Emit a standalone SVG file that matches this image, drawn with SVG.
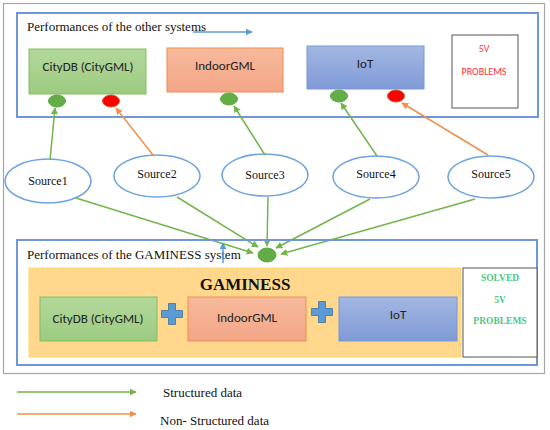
<svg xmlns="http://www.w3.org/2000/svg" width="550" height="430" viewBox="0 0 550 430">
<defs>
<style>
.ser{font-family:"Liberation Serif","Times New Roman",serif;fill:#111}
.sans{font-family:"Carlito","Liberation Sans",Arial,sans-serif;fill:#222}
.frame{fill:none;stroke:#6f97d8;stroke-width:2}
.gdot{fill:#62ad45;stroke:#5aa83c;stroke-width:1}
.rdot{fill:#ff0000;stroke:#c85a2a;stroke-width:1}
.src{fill:#fff;stroke:#6fa4e0;stroke-width:1.6}
.g{stroke:#72b54c;stroke-width:1.5;fill:none;marker-end:url(#ag)}
.o{stroke:#f0904a;stroke-width:1.5;fill:none;marker-end:url(#ao)}
.plus{fill:#5b9bd5;stroke:#41719c;stroke-width:0.8}
.sv{font-family:"Liberation Serif","Times New Roman",serif;fill:#4cc97f;font-weight:bold;font-size:9.5px}
</style>
<linearGradient id="gg" x1="0" y1="0" x2="0" y2="1"><stop offset="0" stop-color="#b3d89c"/><stop offset="1" stop-color="#9ccb80"/></linearGradient>
<linearGradient id="gs" x1="0" y1="0" x2="0" y2="1"><stop offset="0" stop-color="#f7b99c"/><stop offset="1" stop-color="#f2a687"/></linearGradient>
<linearGradient id="gb" x1="0" y1="0" x2="0" y2="1"><stop offset="0" stop-color="#a3b7e3"/><stop offset="1" stop-color="#7e9ad6"/></linearGradient>
<marker id="ag" viewBox="0 0 10 10" refX="9" refY="5" markerWidth="7" markerHeight="7" orient="auto" markerUnits="userSpaceOnUse"><path d="M0,0L10,5L0,10z" fill="#72b54c"/></marker>
<marker id="ao" viewBox="0 0 10 10" refX="9" refY="5" markerWidth="7" markerHeight="7" orient="auto" markerUnits="userSpaceOnUse"><path d="M0,0L10,5L0,10z" fill="#f0904a"/></marker>
<marker id="ab" viewBox="0 0 10 10" refX="9" refY="5" markerWidth="7" markerHeight="7" orient="auto" markerUnits="userSpaceOnUse"><path d="M0,0L10,5L0,10z" fill="#5b9bd5"/></marker>
</defs>
<rect x="0" y="0" width="550" height="430" fill="#fff"/>
<rect x="3.5" y="3.5" width="541" height="370" fill="none" stroke="#a6a6a6" stroke-width="1.2"/>

<g id="top-panel">
<rect class="frame" x="17" y="13" width="521" height="104"/>
<text class="ser" x="27" y="31" font-size="13">Performances of the other systems</text>
<line x1="193" y1="32" x2="252" y2="32" stroke="#5b9bd5" stroke-width="1.5" marker-end="url(#ab)"/>
</g>
<g id="citydb-top"><rect x="29" y="49" width="117" height="45" fill="url(#gg)" stroke="#82bd63"/><text class="sans" x="88" y="71" font-size="13" text-anchor="middle">CityDB (CityGML)</text></g>
<g id="indoorgml-top"><rect x="167" y="48" width="116" height="44" fill="url(#gs)" stroke="#f08c4f"/><text class="sans" x="225" y="70" font-size="13" text-anchor="middle">IndoorGML</text></g>
<g id="iot-top"><rect x="307" y="46" width="117" height="43" fill="url(#gb)" stroke="#7a98d4"/><text class="sans" x="365" y="68" font-size="13" text-anchor="middle">IoT</text></g>
<g id="problems-top"><rect x="452" y="35" width="66" height="73" fill="#fff" stroke="#555" stroke-width="1"/><text class="sans" x="484" y="52" font-size="10" text-anchor="middle" style="fill:#ff3333">5V</text><text class="sans" x="484" y="75" font-size="10" text-anchor="middle" style="fill:#ff3333">PROBLEMS</text></g>

<g id="dots">
<ellipse class="gdot" cx="57" cy="101" rx="8.5" ry="6"/>
<ellipse class="rdot" cx="111" cy="101" rx="8.5" ry="6"/>
<ellipse class="gdot" cx="229" cy="99" rx="8.5" ry="6"/>
<ellipse class="gdot" cx="339" cy="96" rx="8.5" ry="6"/>
<ellipse class="rdot" cx="396" cy="96" rx="8.5" ry="6"/>
<ellipse class="gdot" cx="267" cy="255" rx="9" ry="7"/>
</g>

<g id="source1"><ellipse class="src" cx="48" cy="181" rx="43" ry="22"/><text class="ser" x="48" y="185" font-size="12" text-anchor="middle">Source1</text></g>
<g id="source2"><ellipse class="src" cx="157" cy="176" rx="43" ry="21"/><text class="ser" x="157" y="178" font-size="12" text-anchor="middle">Source2</text></g>
<g id="source3"><ellipse class="src" cx="265" cy="175" rx="43" ry="21"/><text class="ser" x="265" y="179" font-size="12" text-anchor="middle">Source3</text></g>
<g id="source4"><ellipse class="src" cx="376" cy="177" rx="43" ry="21"/><text class="ser" x="376" y="178" font-size="12" text-anchor="middle">Source4</text></g>
<g id="source5"><ellipse class="src" cx="491" cy="177" rx="43" ry="21"/><text class="ser" x="491" y="178" font-size="12" text-anchor="middle">Source5</text></g>

<g id="connectors">
<line class="g" x1="50" y1="160" x2="55" y2="108"/>
<line class="o" x1="153" y1="155" x2="116" y2="108"/>
<line class="g" x1="265" y1="155" x2="234" y2="106"/>
<line class="g" x1="377" y1="156" x2="341" y2="103"/>
<line class="o" x1="488" y1="155" x2="402" y2="103"/>
<line class="g" x1="76" y1="198" x2="253" y2="253"/>
<line class="g" x1="177" y1="197" x2="258" y2="247"/>
<line class="g" x1="268" y1="197" x2="267" y2="246"/>
<line class="g" x1="370" y1="199" x2="276" y2="248"/>
<line class="g" x1="475" y1="199" x2="281" y2="254"/>
</g>

<g id="bottom-panel">
<rect class="frame" x="17" y="240" width="520" height="125"/>
<text class="ser" x="27" y="259" font-size="13">Performances of the GAMINESS system</text>
<line x1="223" y1="263" x2="223" y2="243" stroke="#5b9bd5" stroke-width="1.5" marker-end="url(#ab)"/>
</g>
<g id="gaminess">
<rect x="29" y="268" width="432" height="89" fill="#ffd88e" stroke="#ffd966" stroke-width="1"/>
<text x="245" y="290" font-size="17" font-weight="bold" text-anchor="middle" style="font-family:'Liberation Serif','Times New Roman',serif;fill:#111">GAMINESS</text>
</g>
<g id="citydb-bottom"><rect x="40" y="297" width="117" height="44" fill="url(#gg)" stroke="#82bd63"/><text class="sans" x="98" y="323" font-size="13" text-anchor="middle">CityDB (CityGML)</text></g>
<g id="plus1"><path class="plus" d="M168.5,303.5h7v7h7v7h-7v7h-7v-7h-7v-7h7z"/></g>
<g id="indoorgml-bottom"><rect x="188" y="297" width="118" height="44" fill="url(#gs)" stroke="#f08c4f"/><text class="sans" x="247" y="322" font-size="13" text-anchor="middle">IndoorGML</text></g>
<g id="plus2"><path class="plus" d="M318.5,301.5h7v7h7v7h-7v7h-7v-7h-7v-7h7z"/></g>
<g id="iot-bottom"><rect x="339" y="297" width="118" height="44" fill="url(#gb)" stroke="#7a98d4"/><text class="sans" x="398" y="319" font-size="13" text-anchor="middle">IoT</text></g>
<g id="solved"><rect x="463" y="268" width="74" height="89" fill="#fff" stroke="#555" stroke-width="1"/>
<text class="sv" x="500" y="281" text-anchor="middle">SOLVED</text>
<text class="sv" x="500" y="303" text-anchor="middle">5V</text>
<text class="sv" x="500" y="324" text-anchor="middle">PROBLEMS</text>
</g>

<g id="legend">
<line class="g" x1="17" y1="392" x2="136" y2="392"/>
<text class="ser" x="163" y="397" font-size="13">Structured data</text>
<line class="o" x1="17" y1="414" x2="136" y2="414"/>
<text class="ser" x="160" y="425" font-size="13">Non- Structured data</text>
</g>
</svg>
